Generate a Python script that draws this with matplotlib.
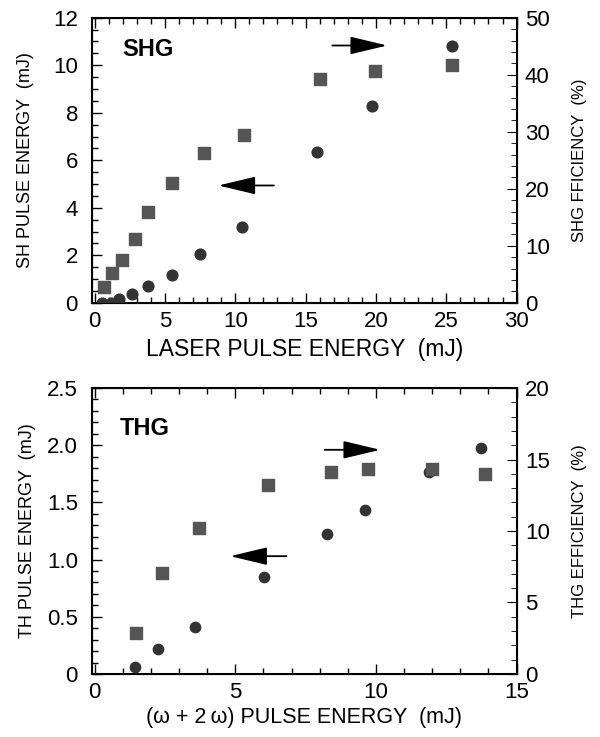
import numpy as np
import matplotlib
matplotlib.use('Agg')
import matplotlib.pyplot as plt
from matplotlib.ticker import MultipleLocator

plt.rcParams['font.family'] = ['Liberation Sans', 'DejaVu Sans']

# SHG panel
shg_energy_x = [0.54, 1.13, 1.7, 2.63, 3.76, 5.47, 7.49, 10.5, 15.8, 19.74, 25.4]
shg_energy_y = [0.0, 0.0, 0.17, 0.38, 0.73, 1.18, 2.06, 3.2, 6.36, 8.27, 10.82]
shg_eff_x = [0.66, 1.22, 1.92, 2.9, 3.83, 5.52, 7.77, 10.59, 16.0, 19.95, 25.4]
shg_eff_y = [2.8, 5.26, 7.6, 11.2, 16.0, 21.05, 26.3, 29.4, 39.2, 40.7, 41.7]

# THG panel
thg_energy_x = [1.44, 2.27, 3.58, 6.01, 8.27, 9.61, 11.87, 13.74]
thg_energy_y = [0.06, 0.22, 0.41, 0.85, 1.22, 1.43, 1.77, 1.98]
thg_eff_x = [1.47, 2.38, 3.72, 6.15, 8.41, 9.72, 11.98, 13.88]
thg_eff_y = [2.84, 7.09, 10.23, 13.23, 14.14, 14.33, 14.35, 13.98]

circle_color = '#333333'
square_color = '#555555'
TICK_FS = 16


def style_axis(ax, xmaj, xmin, ymaj, ymin):
    ax.xaxis.set_major_locator(MultipleLocator(xmaj))
    ax.xaxis.set_minor_locator(MultipleLocator(xmin))
    ax.yaxis.set_major_locator(MultipleLocator(ymaj))
    ax.yaxis.set_minor_locator(MultipleLocator(ymin))
    ax.tick_params(which='both', direction='in', top=True, labelsize=TICK_FS, width=1)
    ax.tick_params(which='major', length=7)
    ax.tick_params(which='minor', length=4)
    ax.tick_params(axis='x', pad=6)
    ax.tick_params(axis='y', pad=10)
    for s in ax.spines.values():
        s.set_linewidth(1.5)


def style_right(ax, ymax, ymaj, ymin):
    ax.set_ylim(0, ymax)
    ax.yaxis.set_major_locator(MultipleLocator(ymaj))
    ax.yaxis.set_minor_locator(MultipleLocator(ymin))
    ax.tick_params(which='both', direction='in', labelsize=TICK_FS, pad=6)
    ax.tick_params(which='major', length=7)
    ax.tick_params(which='minor', length=4)


def arrow(ax, x0, x1, y):
    ax.annotate('', xy=(x1, y), xytext=(x0, y),
                arrowprops=dict(arrowstyle='-|>,head_length=2.3,head_width=0.55',
                                mutation_scale=10, color='black', lw=1.3,
                                shrinkA=0, shrinkB=0))


fig = plt.figure(figsize=(6, 7.37), dpi=100)

# --- top: SHG ---
ax1 = fig.add_axes([0.153, 0.589, 0.708, 0.387])
ax1.scatter(shg_energy_x, shg_energy_y, s=60, marker='o', color=circle_color, zorder=3)
ax1.set_xlim(-0.2, 30)
ax1.set_ylim(0, 12)
style_axis(ax1, 5, 1, 2, 0.5)
ax1.set_xlabel('LASER PULSE ENERGY  (mJ)', fontsize=16.5, labelpad=4)
ax1.set_ylabel('SH PULSE ENERGY  (mJ)', fontsize=13, labelpad=14)
ax1.text(2.0, 10.67, 'SHG', fontsize=17, fontweight='bold', va='center')
arrow(ax1, 16.9, 20.8, 10.83)
arrow(ax1, 12.75, 8.8, 4.94)

ax1r = ax1.twinx()
ax1r.scatter(shg_eff_x, shg_eff_y, s=80, marker='s', color=square_color, zorder=3)
style_right(ax1r, 50, 10, 2)
# right-axis zero sits a little higher than the x tick labels
ax1r.get_yticklabels()[0].set_verticalalignment('bottom')
ax1r.set_ylabel('SHG FFICIENCY  (%)', fontsize=12, labelpad=16)

# --- bottom: THG ---
ax2 = fig.add_axes([0.153, 0.0855, 0.708, 0.388])
ax2.scatter(thg_energy_x, thg_energy_y, s=55, marker='o', color=circle_color, zorder=3)
ax2.set_xlim(-0.1, 15)
ax2.set_ylim(0, 2.5)
style_axis(ax2, 5, 1, 0.5, 0.1)
ax2.set_yticks([0, 0.5, 1.0, 1.5, 2.0, 2.5])
ax2.set_yticklabels(['0', '0.5', '1.0', '1.5', '2.0', '2.5'])
ax2.set_xlabel('(\u03c9 + 2\u2009\u03c9) PULSE ENERGY  (mJ)', fontsize=15.5, labelpad=3)
ax2.set_ylabel('TH PULSE ENERGY  (mJ)', fontsize=13, labelpad=8)
ax2.text(0.9, 2.15, 'THG', fontsize=17, fontweight='bold', va='center')
arrow(ax2, 8.18, 10.15, 1.96)
arrow(ax2, 6.82, 4.82, 1.03)

ax2r = ax2.twinx()
ax2r.scatter(thg_eff_x, thg_eff_y, s=80, marker='s', color=square_color, zorder=3)
style_right(ax2r, 20, 5, 1)
ax2r.set_ylabel('THG EFFICIENCY  (%)', fontsize=12, labelpad=16)

fig.savefig('out.png', dpi=100)
